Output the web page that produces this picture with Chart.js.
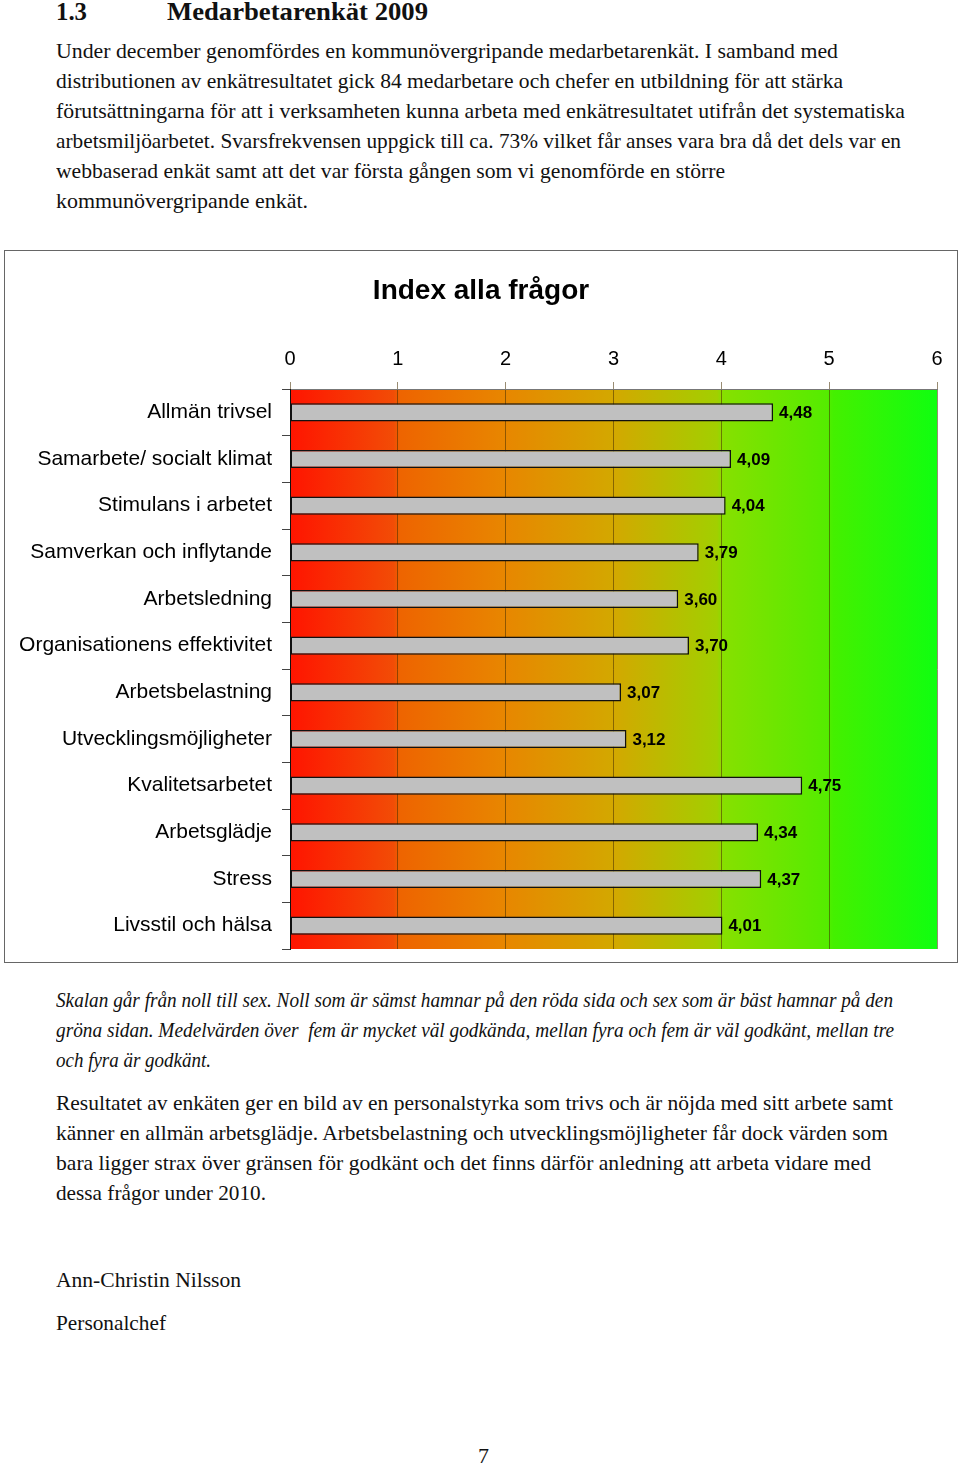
<!DOCTYPE html>
<html>
<head>
<meta charset="utf-8">
<script src="https://cdn.jsdelivr.net/npm/chart.js@4/dist/chart.umd.min.js"></script>
<style>
  body { margin: 0; background: #fff; }
  #page { position: relative; width: 960px; height: 1466px; overflow: hidden; }
  .t { position: absolute; left: 56px; white-space: nowrap; font-family: "Liberation Serif", "DejaVu Serif", serif;
       font-size: 21px; line-height: 30px; color: #111; transform-origin: 0 50%; }
  .i { font-style: italic; }
  .h { font-weight: bold; font-size: 26px; }
  #box { position: absolute; left: 4px; top: 250px; width: 952px; height: 711px; border: 1px solid #666; }
  #box canvas { position: absolute; left: 0; top: 0; }
</style>
</head>
<body>
<div id="page">
  <div class="t h" style="top:-3px" data-w="31">1.3</div>
  <div class="t h" style="top:-3px;left:167px" data-w="261">Medarbetarenkät 2009</div>

  <div class="t" style="top:36px" data-w="782">Under december genomfördes en kommunövergripande medarbetarenkät. I samband med</div>
  <div class="t" style="top:66px" data-w="787">distributionen av enkätresultatet gick 84 medarbetare och chefer en utbildning för att stärka</div>
  <div class="t" style="top:96px" data-w="849">förutsättningarna för att i verksamheten kunna arbeta med enkätresultatet utifrån det systematiska</div>
  <div class="t" style="top:126px" data-w="845">arbetsmiljöarbetet. Svarsfrekvensen uppgick till ca. 73% vilket får anses vara bra då det dels var en</div>
  <div class="t" style="top:156px" data-w="669">webbaserad enkät samt att det var första gången som vi genomförde en större</div>
  <div class="t" style="top:186px" data-w="252">kommunövergripande enkät.</div>

  <div id="box"><canvas id="chart1" width="952" height="711"></canvas></div>

  <div class="t i" style="top:985px" data-w="837">Skalan går från noll till sex. Noll som är sämst hamnar på den röda sida och sex som är bäst hamnar på den</div>
  <div class="t i" style="top:1015px" data-w="838">gröna sidan. Medelvärden över&nbsp; fem är mycket väl godkända, mellan fyra och fem är väl godkänt, mellan tre</div>
  <div class="t i" style="top:1045px" data-w="155">och fyra är godkänt.</div>

  <div class="t" style="top:1088px" data-w="837">Resultatet av enkäten ger en bild av en personalstyrka som trivs och är nöjda med sitt arbete samt</div>
  <div class="t" style="top:1118px" data-w="832">känner en allmän arbetsglädje. Arbetsbelastning och utvecklingsmöjligheter får dock värden som</div>
  <div class="t" style="top:1148px" data-w="815">bara ligger strax över gränsen för godkänt och det finns därför anledning att arbeta vidare med</div>
  <div class="t" style="top:1178px" data-w="210">dessa frågor under 2010.</div>

  <div class="t" style="top:1265px" data-w="185">Ann-Christin Nilsson</div>
  <div class="t" style="top:1308px" data-w="110">Personalchef</div>
  <div class="t" style="top:1441px;left:478px" data-w="11">7</div>
</div>

<script>
// stretch each text line to the width it has in the scanned page
document.querySelectorAll('.t').forEach(function (el) {
  var w = el.getBoundingClientRect().width;
  var target = +el.dataset.w;
  if (w > 0 && target) el.style.transform = 'scaleX(' + (target / w) + ')';
});

// Chart data
// ========================================================================
var categories = ["Allmän trivsel", "Samarbete/ socialt klimat", "Stimulans i arbetet",
  "Samverkan och inflytande", "Arbetsledning", "Organisationens effektivitet",
  "Arbetsbelastning", "Utvecklingsmöjligheter", "Kvalitetsarbetet", "Arbetsglädje",
  "Stress", "Livsstil och hälsa"];
var indexValues = [4.48, 4.09, 4.04, 3.79, 3.60, 3.70, 3.07, 3.12, 4.75, 4.34, 4.37, 4.01];
var scaleTicks = [0, 1, 2, 3, 4, 5, 6];

var FONT = "'Liberation Sans', Arial, sans-serif";

// red -> green background behind the bars
var gradientBg = {
  id: 'gradientBg',
  beforeDraw: function (chart) {
    var a = chart.chartArea, ctx = chart.ctx;
    var g = ctx.createLinearGradient(a.left, 0, a.right, 0);
    g.addColorStop(0.00, '#ff1400');
    g.addColorStop(0.16, '#f24c06');
    g.addColorStop(0.17, '#ee6400');
    g.addColorStop(0.33, '#e88600');
    g.addColorStop(0.50, '#d3a800');
    g.addColorStop(0.66, '#a2cf00');
    g.addColorStop(0.67, '#86e000');
    g.addColorStop(0.83, '#55ec00');
    g.addColorStop(0.84, '#44f000');
    g.addColorStop(1.00, '#10ff10');
    ctx.save();
    ctx.fillStyle = g;
    ctx.fillRect(a.left, a.top, a.right - a.left, a.bottom - a.top);
    ctx.restore();
  }
};

// value labels with comma decimals
var valueLabels = {
  id: 'valueLabels',
  afterDatasetsDraw: function (chart) {
    var ctx = chart.ctx;
    var meta = chart.getDatasetMeta(0);
    ctx.save();
    ctx.font = 'bold 17px ' + FONT;
    ctx.fillStyle = '#000';
    ctx.textBaseline = 'middle';
    meta.data.forEach(function (bar, i) {
      ctx.fillText(indexValues[i].toFixed(2).replace('.', ','), bar.x + 6, bar.y + 1);
    });
    ctx.restore();
  }
};

var char1El = document.getElementById('chart1');
new Chart(char1El, {
  type: 'bar',
  data: {
    labels: categories,
    datasets: [{
      data: indexValues,
      backgroundColor: '#c0c0c0',
      borderColor: '#111',
      borderWidth: 1.5,
      borderSkipped: false,
      barPercentage: 0.39,
      categoryPercentage: 1
    }]
  },
  options: {
    indexAxis: 'y',
    responsive: false,
    animation: false,
    layout: { padding: { left: 20, right: 20, top: 0, bottom: 13 } },
    plugins: {
      legend: { display: false },
      tooltip: { enabled: false },
      title: {
        display: true,
        text: 'Index alla frågor',
        color: '#000',
        font: { family: FONT, size: 28, weight: 'bold' },
        padding: { top: 23, bottom: 38 }
      }
    },
    scales: {
      x: {
        position: 'top',
        min: scaleTicks[0],
        max: scaleTicks[scaleTicks.length - 1],
        afterBuildTicks: function (scale) {
          scale.ticks = scaleTicks.map(function (v) { return { value: v }; });
        },
        afterFit: function (scale) { scale.height = 43.4; },
        ticks: { color: '#000', padding: 11, font: { family: FONT, size: 20 } },
        grid: { color: 'rgba(70,45,0,0.55)', lineWidth: 1, tickLength: 7 },
        border: { display: true, color: '#777' }
      },
      y: {
        afterFit: function (scale) {
          scale.width = 265;
          scale.paddingTop = 0;
          scale.paddingBottom = 0;
          // long labels may reach into the left padding
          scale._computeLabelArea = function () { return undefined; };
        },
        ticks: { color: '#000', padding: 10, font: { family: FONT, size: 21 } },
        grid: { drawOnChartArea: false, offset: true, color: '#444', tickLength: 8 },
        border: { display: true, color: '#111', width: 1 }
      }
    }
  },
  plugins: [gradientBg, valueLabels]
});
</script>
</body>
</html>
